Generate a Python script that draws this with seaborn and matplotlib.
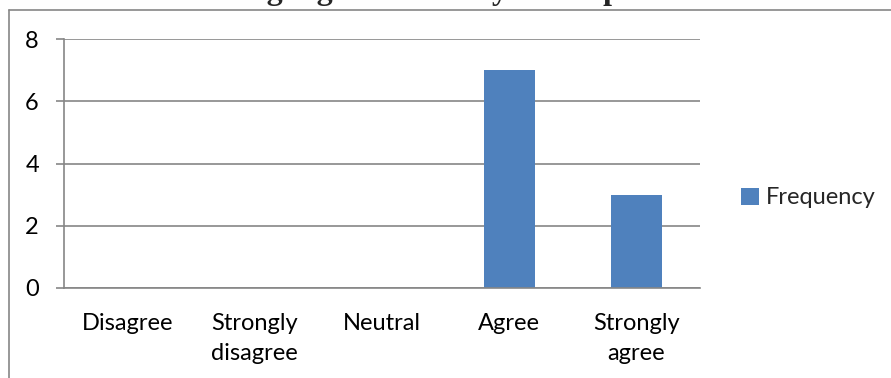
import matplotlib
matplotlib.use("Agg")
import matplotlib.pyplot as plt
from matplotlib.lines import Line2D
import seaborn as sns
import pandas as pd

categories = ["Disagree", "Strongly\ndisagree", "Neutral", "Agree", "Strongly\nagree"]
frequency = [0, 0, 0, 7, 3]
series_name = "Frequency"
y_ticks = [0, 2, 4, 6, 8]
title = "language vocabulary development"

BAR = "#4F81BD"
GRID = "#868686"

sns.set_theme(style="white")
plt.rcParams["font.family"] = ["Lato", "DejaVu Sans"]

df = pd.DataFrame({"Category": categories, "Count": frequency, "Series": series_name})

W, H = 891, 378
fig = plt.figure(figsize=(W / 100, H / 100), dpi=100)
ax = fig.add_axes([64 / W, (H - 288) / H, (700 - 64) / W, (288 - 39) / H])

sns.barplot(data=df, x="Category", y="Count", hue="Series", palette=[BAR],
            width=0.4, ax=ax, legend=True, saturation=1, edgecolor="none")

ax.set_xlim(-0.5, len(categories) - 0.5)
ax.set_ylim(0, 8)
ax.set_yticks(y_ticks)
ax.set_xlabel("")
ax.set_ylabel("")
ax.yaxis.grid(True, color=GRID, linewidth=1.2)
ax.set_axisbelow(True)

for side in ("top", "right"):
    ax.spines[side].set_visible(False)
for side in ("left", "bottom"):
    ax.spines[side].set_color(GRID)
    ax.spines[side].set_linewidth(1.2)

# category labels sit on major ticks; tick marks sit on the boundaries
ax.set_xticks(range(len(categories)))
ax.set_xticklabels(categories, fontsize=17, color="black", linespacing=1.5)
ax.set_xticks([i - 0.5 for i in range(len(categories) + 1)], minor=True)
ax.tick_params(axis="x", which="major", length=0, pad=18)
ax.tick_params(axis="x", which="minor", length=5.5, width=1.2, color=GRID, direction="out")
ax.tick_params(axis="y", length=6, width=1.2, color=GRID, direction="out",
               labelsize=17, labelcolor="black", pad=12, left=True)

leg = ax.legend(loc="center left", bbox_to_anchor=(741 / W, 1 - 198 / H),
                bbox_transform=fig.transFigure, frameon=False, fontsize=17,
                handlelength=0.75, handleheight=0.75, handletextpad=0.3,
                borderaxespad=0, borderpad=0)

# outer chart frame
fig.add_artist(Line2D([8.5 / W, 8.5 / W], [0, 1 - 9.5 / H], transform=fig.transFigure,
                      color=GRID, linewidth=1.2))
fig.add_artist(Line2D([8.5 / W, 1], [1 - 9.5 / H, 1 - 9.5 / H], transform=fig.transFigure,
                      color=GRID, linewidth=1.2))

fig.text(457 / W, 1 + 1 / H, title, ha="center", va="baseline",
         fontsize=23, fontweight="bold", family=["Liberation Serif", "DejaVu Serif"])

fig.savefig("out.png", dpi=100)
